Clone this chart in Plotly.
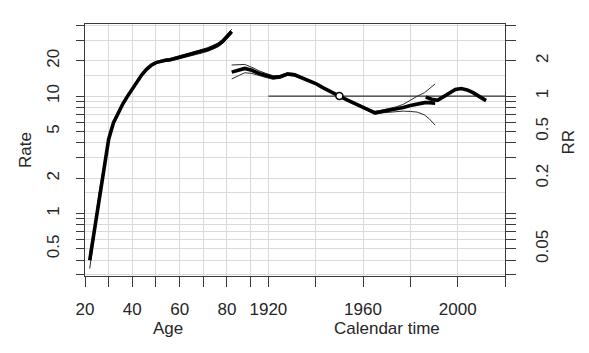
import plotly.graph_objects as go

# ---- data ----
age = [22, 24, 26, 28, 30, 32, 34, 36, 38, 40, 42, 44, 46, 48, 50, 52, 54, 56, 58, 60,
       62, 64, 66, 68, 70, 72, 74, 76, 78, 80, 82]
age_rate = [0.40, 0.72, 1.45, 2.6, 4.3, 5.9, 7.2, 8.6, 10.0, 11.5, 13.3, 15.2, 16.9, 18.3, 19.3,
            19.9, 20.2, 20.4, 20.9, 21.4, 22.0, 22.5, 23.0, 23.6, 24.3, 25.0, 26.0, 27.1, 29.0, 31.8, 35.5]
age_lo = [0.34, 0.67, 1.38, 2.50, 4.18, 5.77, 7.06, 8.45, 9.85, 11.33, 13.1, 14.98, 16.65, 18.0, 18.95,
          19.5, 19.75, 19.9, 20.35, 20.8, 21.35, 21.8, 22.25, 22.8, 23.45, 24.1, 25.05, 26.1, 27.9, 30.5, 34.0]
age_hi = [0.46, 0.77, 1.52, 2.70, 4.42, 6.03, 7.34, 8.75, 10.15, 11.67, 13.5, 15.42, 17.15, 18.6, 19.65,
          20.3, 20.65, 20.9, 21.45, 22.0, 22.65, 23.2, 23.75, 24.4, 25.15, 25.9, 27.0, 28.15, 30.15, 33.1, 37.1]

per_year = [1904.5, 1907, 1910, 1913, 1916, 1919, 1922, 1925, 1928, 1931, 1934, 1937, 1940, 1943, 1946,
            1950, 1953, 1956, 1959, 1962, 1965, 1968, 1971, 1974, 1977, 1980, 1983, 1986, 1988, 1990.5]
per_rr = [1.60, 1.66, 1.72, 1.66, 1.56, 1.50, 1.44, 1.46, 1.54, 1.52, 1.44, 1.37, 1.28, 1.18, 1.09,
          1.00, 0.935, 0.875, 0.82, 0.77, 0.72, 0.74, 0.755, 0.775, 0.80, 0.83, 0.86, 0.88, 0.88, 0.87]
per_lo = [1.40, 1.48, 1.58, 1.56, 1.49, 1.44, 1.39, 1.42, 1.50, 1.48, 1.41, 1.35, 1.265, 1.17, 1.085,
          1.00, 0.93, 0.865, 0.81, 0.755, 0.70, 0.72, 0.73, 0.74, 0.745, 0.74, 0.73, 0.69, 0.64, 0.565]
per_hi = [1.84, 1.85, 1.86, 1.76, 1.64, 1.56, 1.49, 1.50, 1.58, 1.56, 1.47, 1.39, 1.295, 1.19, 1.095,
          1.00, 0.94, 0.885, 0.83, 0.785, 0.74, 0.76, 0.78, 0.81, 0.85, 0.93, 1.00, 1.07, 1.15, 1.27]

per2_year = [1986.5, 1989, 1991.5, 1994, 1996.5, 1999, 2001.5, 2004, 2006.5, 2009, 2012]
per2_rr = [0.98, 0.94, 0.92, 0.99, 1.08, 1.14, 1.16, 1.13, 1.07, 1.00, 0.915]

ref_year = [1950]
ref_rr = [1.0]
ref_line_year = [1920, 2020]
ref_line_rr = [1.0, 1.0]

age_ticks = [20, 30, 40, 50, 60, 70, 80, 90]
age_ticktext = ["20", "", "40", "", "60", "", "80", ""]
year_ticks = [1920, 1940, 1960, 1980, 2000, 2020]
year_ticktext = ["1920", "", "1960", "", "2000", ""]

rate_ticks = [0.3, 0.4, 0.5, 0.6, 0.7, 0.8, 0.9, 1, 2, 3, 4, 5, 6, 7, 8, 9, 10, 20, 30, 40]
rate_labels = {0.5: "0.5", 1: "1", 2: "2", 5: "5", 10: "10", 20: "20"}
rr_ticks = [0.03, 0.04, 0.05, 0.06, 0.07, 0.08, 0.09, 0.1, 0.2, 0.3, 0.4, 0.5, 0.6, 0.7, 0.8, 0.9, 1, 2, 3, 4]
rr_labels = {0.05: "0.05", 0.2: "0.2", 0.5: "0.5", 1: "1", 2: "2"}
extra_grid_rate = [1.5, 15]

# ---- figure ----
FONT = "Liberation Sans, Arial, sans-serif"
TXT = "#262626"
AX = "#3a3a3a"
GRID = "#dadada"

fig = go.Figure()

thin = dict(color="#2a2a2a", width=1)
thick = dict(color="black", width=3.6)

fig.add_trace(go.Scatter(x=age, y=age_lo, mode="lines", line=thin, xaxis="x", yaxis="y"))
fig.add_trace(go.Scatter(x=age, y=age_hi, mode="lines", line=thin, xaxis="x", yaxis="y"))
fig.add_trace(go.Scatter(x=age, y=age_rate, mode="lines", line=thick, xaxis="x", yaxis="y"))

fig.add_trace(go.Scatter(x=ref_line_year, y=ref_line_rr, mode="lines",
                         line=dict(color="#333333", width=1.3), xaxis="x2", yaxis="y2"))
fig.add_trace(go.Scatter(x=per_year, y=per_lo, mode="lines", line=thin, xaxis="x2", yaxis="y2"))
fig.add_trace(go.Scatter(x=per_year, y=per_hi, mode="lines", line=thin, xaxis="x2", yaxis="y2"))
fig.add_trace(go.Scatter(x=per_year, y=per_rr, mode="lines", line=thick, xaxis="x2", yaxis="y2"))
fig.add_trace(go.Scatter(x=per2_year, y=per2_rr, mode="lines", line=thick, xaxis="x2", yaxis="y2"))
fig.add_trace(go.Scatter(x=ref_year, y=ref_rr, mode="markers",
                         marker=dict(symbol="circle", size=7, color="white",
                                     line=dict(color="black", width=1.5)),
                         xaxis="x2", yaxis="y2"))

age_left = 20
year_right = 2020
year_left = 1920 - (97.5 - age_left)
age_right = age_left + (year_right - year_left)

tickfont = dict(family=FONT, size=17, color=TXT)

# the page body has an 8px default margin, so the figure is 8px smaller each way
fig.update_layout(
    width=581, height=345,
    margin=dict(l=77, r=84, t=16, b=77, autoexpand=False),
    paper_bgcolor="white", plot_bgcolor="white",
    showlegend=False,
    xaxis=dict(range=[age_left, age_right], tickmode="array", tickvals=age_ticks, ticktext=age_ticktext,
               ticks="outside", ticklen=10, tickcolor=AX, tickwidth=1,
               showline=True, linecolor=AX, linewidth=1, mirror=True,
               showgrid=True, gridcolor=GRID, gridwidth=1, zeroline=False,
               tickfont=tickfont, ticklabelstandoff=8, automargin=False),
    xaxis2=dict(range=[year_left, year_right], overlaying="x", side="bottom", anchor="y",
                tickmode="array", tickvals=year_ticks, ticktext=year_ticktext,
                ticks="outside", ticklen=10, tickcolor=AX, tickwidth=1,
                showline=False, showgrid=True, gridcolor=GRID, gridwidth=1, zeroline=False,
                tickfont=tickfont, ticklabelstandoff=8, automargin=False),
    yaxis=dict(type="log", range=[-0.532, 1.614], tickmode="array", tickvals=rate_ticks,
               ticktext=[rate_labels.get(v, "") for v in rate_ticks],
               ticks="outside", ticklen=8, tickcolor=AX, tickwidth=1, tickangle=-90,
               showline=True, linecolor=AX, linewidth=1,
               showgrid=True, gridcolor=GRID, gridwidth=1, zeroline=False,
               minor=dict(tickmode="array", tickvals=extra_grid_rate, showgrid=True,
                          gridcolor=GRID, gridwidth=1, ticks=""),
               tickfont=tickfont, ticklabelstandoff=10, automargin=False),
    yaxis2=dict(type="log", range=[-1.532, 0.614], overlaying="y", side="right", anchor="x",
                tickmode="array", tickvals=rr_ticks,
                ticktext=[rr_labels.get(v, "") for v in rr_ticks],
                ticks="outside", ticklen=10, tickcolor=AX, tickwidth=1, tickangle=-90,
                showline=True, linecolor=AX, linewidth=1, showgrid=False, zeroline=False,
                tickfont=tickfont, ticklabelstandoff=12, automargin=False),
)

titlefont = dict(family=FONT, size=17, color=TXT)
fig.add_annotation(text="Age", x=55, xref="x", y=-0.21, yref="paper", showarrow=False,
                   font=titlefont, yanchor="middle")
fig.add_annotation(text="Calendar time", x=1970, xref="x2", y=-0.21, yref="paper", showarrow=False,
                   font=titlefont, yanchor="middle")
fig.add_annotation(text="Rate", x=-0.143, xref="paper", y=0.5, yref="paper", showarrow=False,
                   font=titlefont, textangle=-90, xanchor="center", yanchor="middle")
fig.add_annotation(text="RR", x=1.15, xref="paper", y=0.53, yref="paper", showarrow=False,
                   font=titlefont, textangle=-90, xanchor="center", yanchor="middle")

fig.write_html("out.html")
